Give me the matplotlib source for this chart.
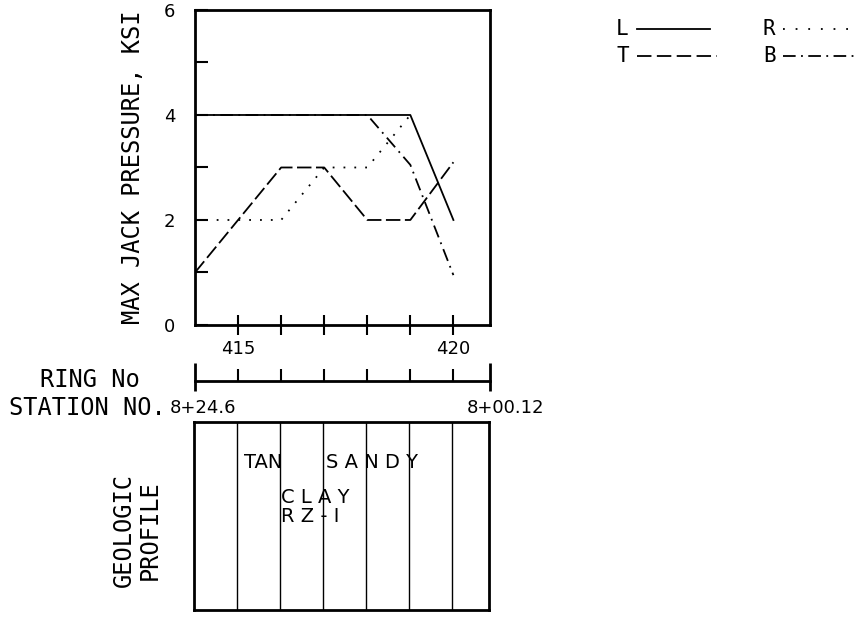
import matplotlib.pyplot as plt

plt.rcParams['font.family'] = 'DejaVu Sans'
MONO = 'DejaVu Sans Mono'

# ring numbers and jack pressures (ksi)
rings = [414, 415, 416, 417, 418, 419, 420]
L = [4, 4, 4, 4, 4, 4, 2]
T = [1, 2, 3, 3, 2, 2, 3.1]
R = [2, 2, 2, 3, 3, 4]
B = [4, 4, 4, 4, 4, 3.05, 0.95]

ring_ticks = [415, 416, 417, 418, 419, 420]
ring_labels = ['415', '', '', '', '', '420']
xmin, xmax = 414.0, 420.85

fig = plt.figure(figsize=(8.58, 6.21), dpi=100)

# top chart
ax = fig.add_axes([0.2273, 0.4767, 0.3438, 0.5072])
ax.plot(rings, L, color='black', lw=1.3)
ax.plot(rings, T, color='black', lw=1.3, linestyle=(0, (8, 2.5)))
ax.plot(rings[:len(R)], R, color='black', lw=1.3, linestyle=(0, (1, 5)))
ax.plot(rings, B, color='black', lw=1.3, linestyle=(0, (7, 3, 1, 3)))
ax.set_xlim(xmin, xmax)
ax.set_ylim(0, 6)
ax.set_yticks([0, 1, 2, 3, 4, 5, 6])
ax.set_yticklabels(['0', '', '2', '', '4', '', '6'], fontsize=13)
ax.set_xticks(ring_ticks)
ax.set_xticklabels(ring_labels, fontsize=13)
ax.tick_params(axis='y', direction='in', length=9, width=1.5, pad=14)
ax.tick_params(axis='x', direction='inout', length=14, width=1.5, pad=4)
for s in ax.spines.values():
    s.set_linewidth(2)
fig.text(0.155, 0.73, 'MAX JACK PRESSURE, KSI', fontsize=17, family=MONO,
         rotation=90, ha='center', va='center')

# legend
leg_font = dict(fontsize=15, family=MONO, ha='left', va='center')
fig.text(0.718, 0.953, 'L', **leg_font)
fig.text(0.718, 0.910, 'T', **leg_font)
fig.text(0.889, 0.953, 'R', **leg_font)
fig.text(0.889, 0.910, 'B', **leg_font)
fig.add_artist(plt.Line2D([0.742, 0.828], [0.953, 0.953], color='black', lw=1.3))
fig.add_artist(plt.Line2D([0.742, 0.836], [0.910, 0.910], color='black', lw=1.3,
                          linestyle=(0, (8, 3))))
fig.add_artist(plt.Line2D([0.913, 1.0], [0.953, 0.953], color='black', lw=1.3,
                          linestyle=(0, (1, 6))))
fig.add_artist(plt.Line2D([0.913, 1.0], [0.910, 0.910], color='black', lw=1.3,
                          linestyle=(0, (7, 3, 1, 3))))

# ring / station scale
axr = fig.add_axes([0.2273, 0.375, 0.3438, 0.04])
axr.set_xlim(xmin, xmax)
axr.set_ylim(0, 1)
axr.axis('off')
axr.plot([xmin, xmax], [0.3, 0.3], color='black', lw=2, clip_on=False)
axr.vlines(ring_ticks, 0.3, 0.75, color='black', lw=1.5)
axr.vlines([xmin, xmax], -0.1, 1.0, color='black', lw=2, clip_on=False)
fig.text(0.105, 0.388, 'RING No', fontsize=17, family=MONO, ha='center', va='center')
fig.text(0.010, 0.343, 'STATION NO.', fontsize=17, family=MONO, ha='left', va='center')
fig.text(0.198, 0.343, '8+24.6', fontsize=13, ha='left', va='center')
fig.text(0.544, 0.343, '8+00.12', fontsize=13, ha='left', va='center')

# geologic profile
axg = fig.add_axes([0.2262, 0.0177, 0.3438, 0.3027])
axg.set_xlim(xmin, xmax)
axg.set_ylim(0, 1)
axg.set_xticks([])
axg.set_yticks([])
for s in axg.spines.values():
    s.set_linewidth(2)
axg.vlines(ring_ticks, 0, 1, color='black', lw=1)
axg.text(415.16, 0.787, 'TAN', fontsize=14, ha='left', va='center')
axg.text(417.06, 0.787, 'S A N D Y', fontsize=14, ha='left', va='center')
axg.text(416.02, 0.596, 'C L A Y', fontsize=14, ha='left', va='center')
axg.text(416.02, 0.495, 'R Z - I', fontsize=14, ha='left', va='center')
fig.text(0.144, 0.147, 'GEOLOGIC', fontsize=17, family=MONO, rotation=90,
         ha='center', va='center')
fig.text(0.174, 0.147, 'PROFILE', fontsize=17, family=MONO, rotation=90,
         ha='center', va='center')

fig.savefig('out.png', dpi=100)
